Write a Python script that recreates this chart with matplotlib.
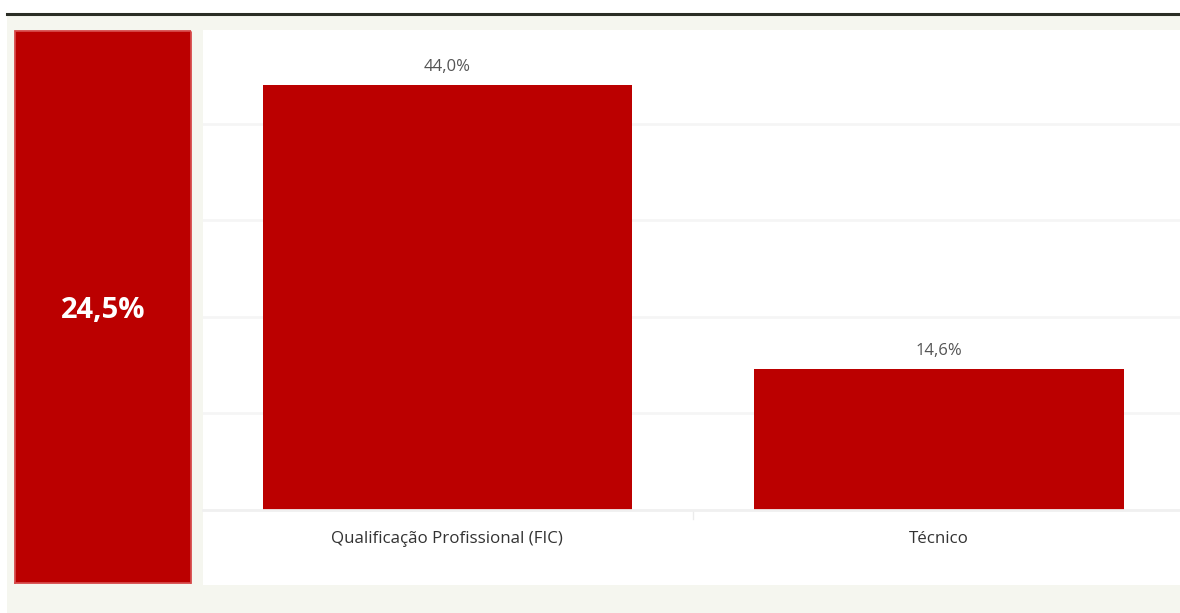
import matplotlib.pyplot as plt
from matplotlib.patches import Rectangle
from matplotlib.lines import Line2D

# data
categories = ['Qualificação Profissional (FIC)', 'Técnico']
values = [44.0, 14.6]
kpi_value = 24.5
gridlines = [10, 20, 30, 40]

red = '#bb0000'
beige = '#f5f6ef'
W, H = 1180, 613


def fx(px):
    return px / W


def fy(py):
    return 1 - py / H


plt.rcParams['font.family'] = ['Open Sans', 'DejaVu Sans']

fig = plt.figure(figsize=(W / 100, H / 100), dpi=100)
fig.patch.set_facecolor('white')

# beige background and top rule
fig.add_artist(Rectangle((fx(7), 0), 1 - fx(7), fy(15), transform=fig.transFigure,
                         facecolor=beige, edgecolor='none', zorder=0))
fig.add_artist(Line2D([fx(7), 1], [fy(14), fy(14)], transform=fig.transFigure,
                      color='#2a2d25', linewidth=2.2, zorder=1))

# white panel behind the bar chart
fig.add_artist(Rectangle((fx(203), fy(585)), 1 - fx(203), fy(30) - fy(585),
                         transform=fig.transFigure, facecolor='white',
                         edgecolor='none', zorder=0))

# KPI tile
kpi = fig.add_axes([fx(15), fy(583), fx(191) - fx(15), fy(31) - fy(583)])
kpi.set_facecolor(red)
for s in kpi.spines.values():
    s.set_color('#d64a4a')
    s.set_linestyle((0, (1, 1)))
    s.set_linewidth(1.3)
kpi.set_xticks([])
kpi.set_yticks([])
kpi.text(0.5, 0.494, f'{kpi_value:.1f}%'.replace('.', ','), color='white',
         fontsize=21, fontweight='bold', ha='center', va='center',
         transform=kpi.transAxes)

# bar chart
ax = fig.add_axes([fx(203), fy(510), 1 - fx(203), fy(30) - fy(510)])
ax.patch.set_alpha(0)
x = list(range(len(categories)))
ax.bar(x, values, width=0.751, color=red, zorder=2)
ax.set_xlim(-0.497, 1.49)
ax.set_ylim(0, 49.7)
for g in gridlines:
    ax.axhline(g, color='#f5f5f5', linewidth=2, zorder=1)
ax.axhline(0, color='#f0f0f0', linewidth=2, zorder=3, clip_on=False)
for xi, v in zip(x, values):
    ax.text(xi, v + 1.0, f'{v:.1f}%'.replace('.', ','), ha='center', va='bottom',
            fontsize=12, color='#555555')
ax.set_xticks(x)
ax.set_xticklabels(categories, fontsize=12.2, color='#333333')
ax.tick_params(axis='x', length=0, pad=15)
ax.set_yticks([])
for s in ax.spines.values():
    s.set_visible(False)
# category separator
ax.plot([0.5, 0.5], [0, -0.9], color='#ebebeb', linewidth=1, clip_on=False)

fig.savefig('out.png', dpi=100, facecolor=fig.get_facecolor())
